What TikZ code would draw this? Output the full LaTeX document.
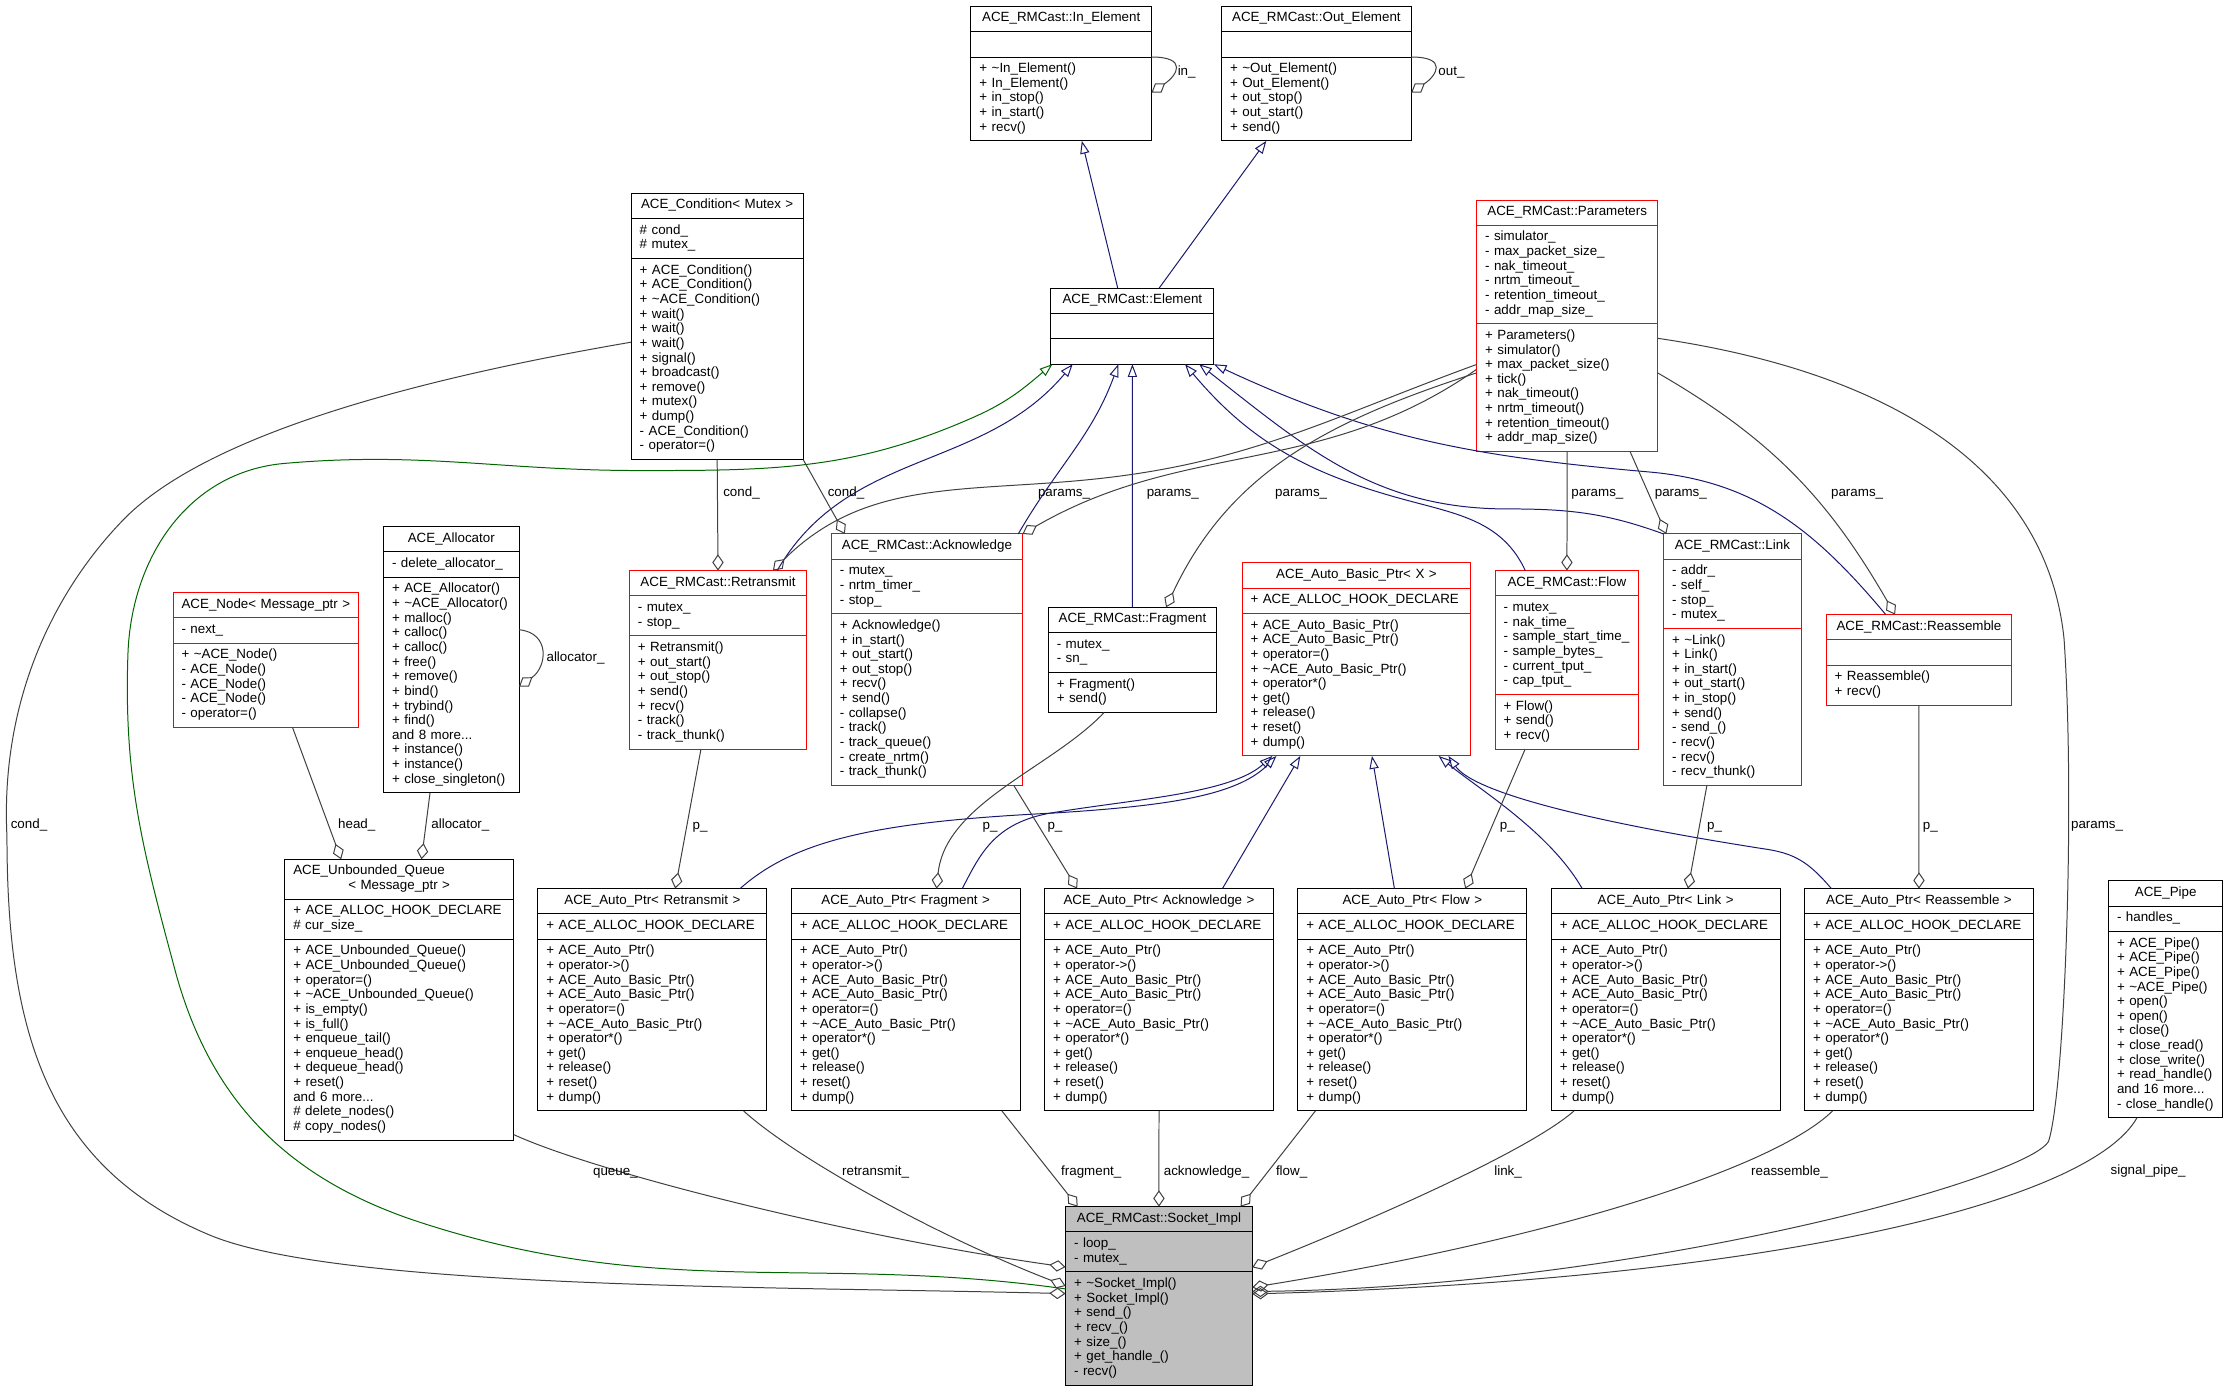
\documentclass[tikz,border=0pt]{standalone}
\usepackage{fontspec}
\setmainfont{Liberation Sans}
\usetikzlibrary{arrows.meta}

\definecolor{inhblue}{RGB}{25,25,112}
\definecolor{protgreen}{RGB}{0,100,0}
\definecolor{aggrgray}{RGB}{64,64,64}

\hyphenpenalty=10000
\exhyphenpenalty=10000

% class box: name, north west corner, width, extra style, title, attributes, methods
\newcommand{\umlclass}[7]{%
  \pgfmathsetmacro{\clstw}{#3-12}%
  \node[cls, cls title, #4, text width=\clstw pt, anchor=north west] (#1) at (#2) {#5};
  \node[cls, #4, text width=\clstw pt, anchor=north] (#1-a) at (#1.south) {#6};
  \node[cls, #4, text width=\clstw pt, anchor=north] (#1-m) at (#1-a.south) {#7};
}

\begin{document}
\begin{tikzpicture}[x=1pt, y=-1pt,
  cls/.style={draw, line width=0.7pt, outer sep=0pt, inner xsep=6pt, inner ysep=3.75pt,
    align=left, font=\fontsize{9.4}{10.3}\selectfont,
    execute at begin node=\strut, execute at end node=\strut},
  cls title/.style={align=center},
  redcls/.style={draw=red},
  lbl/.style={inner sep=0pt, anchor=west, font=\fontsize{9.4}{10.3}\selectfont,
    execute at begin node=\strut},
  inh/.style={draw=inhblue, line width=0.7pt, -{Triangle[open, length=9pt, width=6.5pt]}},
  prot/.style={inh, draw=protgreen},
  aggr/.style={draw=aggrgray, line width=0.7pt, -{Diamond[open, length=11.5pt, width=8pt]}}]
\useasboundingbox[fill=white] (0,0) rectangle (1568,979.2);

% top row
\umlclass{inel}{683,4.5}{127}{}{ACE\_RMCast::In\_Element}{}
  {+~\textasciitilde In\_Element()\\+~In\_Element()\\+~in\_stop()\\+~in\_start()\\+~recv()}
\umlclass{outel}{859.3,4.5}{133.4}{}{ACE\_RMCast::Out\_Element}{}
  {+~\textasciitilde Out\_Element()\\+~Out\_Element()\\+~out\_stop()\\+~out\_start()\\+~send()}
\umlclass{cond}{444,136}{121}{}{ACE\_Condition<~Mutex~>}{\#~cond\_\\\#~mutex\_}
  {+~ACE\_Condition()\\+~ACE\_Condition()\\+~\textasciitilde ACE\_Condition()\\+~wait()\\+~wait()\\+~wait()\\+~signal()\\+~broadcast()\\+~remove()\\+~mutex()\\+~dump()\\-~ACE\_Condition()\\-~operator=()}
\umlclass{elem}{739.3,202.8}{114.5}{}{ACE\_RMCast::Element}{}{}
\umlclass{params}{1038.7,140.7}{127.5}{redcls}{ACE\_RMCast::Parameters}
  {-~simulator\_\\-~max\_packet\_size\_\\-~nak\_timeout\_\\-~nrtm\_timeout\_\\-~retention\_timeout\_\\-~addr\_map\_size\_}
  {+~Parameters()\\+~simulator()\\+~max\_packet\_size()\\+~tick()\\+~nak\_timeout()\\+~nrtm\_timeout()\\+~retention\_timeout()\\+~addr\_map\_size()}

% middle row
\umlclass{msgnode}{121.7,416.9}{130.4}{redcls}{ACE\_Node<~Message\_ptr~>}{-~next\_}
  {+~\textasciitilde ACE\_Node()\\-~ACE\_Node()\\-~ACE\_Node()\\-~ACE\_Node()\\-~operator=()}
\umlclass{alloc}{269.8,370.5}{95.3}{}{ACE\_Allocator}{-~delete\_allocator\_}
  {+~ACE\_Allocator()\\+~\textasciitilde ACE\_Allocator()\\+~malloc()\\+~calloc()\\+~calloc()\\+~free()\\+~remove()\\+~bind()\\+~trybind()\\+~find()\\and~8~more...\\+~instance()\\+~instance()\\+~close\_singleton()}
\umlclass{ret}{442.7,401.4}{124.8}{redcls}{ACE\_RMCast::Retransmit}{-~mutex\_\\-~stop\_}
  {+~Retransmit()\\+~out\_start()\\+~out\_stop()\\+~send()\\+~recv()\\-~track()\\-~track\_thunk()}
\umlclass{ack}{584.8,375.6}{134.5}{redcls}{ACE\_RMCast::Acknowledge}{-~mutex\_\\-~nrtm\_timer\_\\-~stop\_}
  {+~Acknowledge()\\+~in\_start()\\+~out\_start()\\+~out\_stop()\\+~recv()\\+~send()\\-~collapse()\\-~track()\\-~track\_queue()\\-~create\_nrtm()\\-~track\_thunk()}
\umlclass{frag}{737.4,427.2}{118.5}{}{ACE\_RMCast::Fragment}{-~mutex\_\\-~sn\_}{+~Fragment()\\+~send()}
\umlclass{basic}{873.7,396}{161}{redcls}{ACE\_Auto\_Basic\_Ptr<~X~>}{+~ACE\_ALLOC\_HOOK\_DECLARE}
  {+~ACE\_Auto\_Basic\_Ptr()\\+~ACE\_Auto\_Basic\_Ptr()\\+~operator=()\\+~\textasciitilde ACE\_Auto\_Basic\_Ptr()\\+~operator*()\\+~get()\\+~release()\\+~reset()\\+~dump()}
\umlclass{flow}{1051.8,401.4}{100.9}{redcls}{ACE\_RMCast::Flow}
  {-~mutex\_\\-~nak\_time\_\\-~sample\_start\_time\_\\-~sample\_bytes\_\\-~current\_tput\_\\-~cap\_tput\_}
  {+~Flow()\\+~send()\\+~recv()}
\umlclass{link}{1170.2,375.6}{96.9}{redcls}{ACE\_RMCast::Link}{-~addr\_\\-~self\_\\-~stop\_\\-~mutex\_}
  {+~\textasciitilde Link()\\+~Link()\\+~in\_start()\\+~out\_start()\\+~in\_stop()\\+~send()\\-~send\_()\\-~recv()\\-~recv()\\-~recv\_thunk()}
\umlclass{reas}{1284.6,432.4}{130.6}{redcls}{ACE\_RMCast::Reassemble}{}{+~Reassemble()\\+~recv()}

% bottom row
\umlclass{queue}{200.3,604.5}{161}{}{\makebox[\linewidth][l]{ACE\_Unbounded\_Queue}\\<~Message\_ptr~>}
  {+~ACE\_ALLOC\_HOOK\_DECLARE\\\#~cur\_size\_}
  {+~ACE\_Unbounded\_Queue()\\+~ACE\_Unbounded\_Queue()\\+~operator=()\\+~\textasciitilde ACE\_Unbounded\_Queue()\\+~is\_empty()\\+~is\_full()\\+~enqueue\_tail()\\+~enqueue\_head()\\+~dequeue\_head()\\+~reset()\\and~6~more...\\\#~delete\_nodes()\\\#~copy\_nodes()}
\foreach \apid/\apname [count=\i from 0] in {apret/Retransmit, apfrag/Fragment, apack/Acknowledge, apflow/Flow, aplink/Link, apreas/Reassemble}
  {\umlclass{\apid}{378.4+\i*178.2,625.1}{161}{}{ACE\_Auto\_Ptr<~\apname~>}{+~ACE\_ALLOC\_HOOK\_DECLARE}
    {+~ACE\_Auto\_Ptr()\\+~operator->()\\+~ACE\_Auto\_Basic\_Ptr()\\+~ACE\_Auto\_Basic\_Ptr()\\+~operator=()\\+~\textasciitilde ACE\_Auto\_Basic\_Ptr()\\+~operator*()\\+~get()\\+~release()\\+~reset()\\+~dump()}}
\umlclass{pipe}{1483.2,619.7}{80.5}{}{ACE\_Pipe}{-~handles\_}
  {+~ACE\_Pipe()\\+~ACE\_Pipe()\\+~ACE\_Pipe()\\+~\textasciitilde ACE\_Pipe()\\+~open()\\+~open()\\+~close()\\+~close\_read()\\+~close\_write()\\+~read\_handle()\\and~16~more...\\-~close\_handle()}
\umlclass{sock}{749.6,848.8}{131.3}{fill=black!25}{ACE\_RMCast::Socket\_Impl}{-~loop\_\\-~mutex\_}
  {+~\textasciitilde Socket\_Impl()\\+~Socket\_Impl()\\+~send\_()\\+~recv\_()\\+~size\_()\\+~get\_handle\_()\\-~recv()}

% inheritance
\draw[inh] ([xshift=47pt]elem.north west) -- ([xshift=78pt]inel-m.south west);
\draw[inh] ([xshift=76pt]elem.north west) -- ([xshift=31.5pt]outel-m.south west);
\draw[prot] ([yshift=-57.9pt]sock.north west) to[out=172,in=-18] (296,860) to[out=162,in=-75] (123,682)
  to[out=105,in=-92] (90,460) to[out=88,in=185] (200,326) to[out=5,in=180] (450,331)
  to[out=0,in=204] (686,293) to[out=24,in=220] ([xshift=1pt]elem-m.south west);
\draw[inh] ([xshift=104pt]ret.north west) to[out=60,in=-130] ([xshift=15.3pt]elem-m.south west);
\draw[inh] ([xshift=-3pt]ack.north east) to[out=60,in=-110] ([xshift=47.4pt]elem-m.south west);
\draw[inh] ([xshift=59.2pt]frag.north west) -- ([xshift=57.3pt]elem-m.south west);
\draw[inh] ([xshift=21.2pt]flow.north west) to[out=115,in=-15] (990,352) to[out=165,in=-50] ([xshift=94.3pt]elem-m.south west);
\draw[inh] (link.north west) to[out=160,in=0] (1060,358) to[out=180,in=-38] ([xshift=104.2pt]elem-m.south west);
\draw[inh] ([xshift=42pt]reas.north west) to[out=130,in=-5] (1160,332) to[out=175,in=-25] (elem-m.south east);
\draw[inh] ([xshift=142.2pt]apret.north west) .. controls (560,590) and (620,578) .. (740,572)
  .. controls (820,567) and (870,560) .. ([xshift=24.2pt]basic-m.south west);
\draw[inh] ([xshift=120.3pt]apfrag.north west) .. controls (690,600) and (700,577) .. (745,571)
  .. controls (800,562) and (866,558) .. ([xshift=21.3pt]basic-m.south west);
\draw[inh] ([xshift=125.1pt]apack.north west) -- ([xshift=41pt]basic-m.south west);
\draw[inh] ([xshift=67.9pt]apflow.north west) -- ([xshift=91.4pt]basic-m.south west);
\draw[inh] ([xshift=21.8pt]aplink.north west) .. controls (1090,585) and (1040,555) .. ([xshift=138.3pt]basic-m.south west);
\draw[inh] ([xshift=18.9pt]apreas.north west) .. controls (1272,606) and (1262,600) .. (1240,597)
  .. controls (1100,575) and (1035,555) .. ([xshift=145.2pt]basic-m.south west);

% members
\draw[aggr] (inel-m.north east) .. controls +(26,0) and +(18,-12) .. ([yshift=-25pt]inel-m.north east);
\draw[aggr] (outel-m.north east) .. controls +(26,0) and +(18,-12) .. ([yshift=-25pt]outel-m.north east);
\draw[aggr] ([yshift=-36.9pt]alloc-m.north east) .. controls +(22,2) and +(20,-14) .. ([yshift=-76.9pt]alloc-m.north east);
\draw[aggr] (cond-m.south) -- (ret.north);
\draw[aggr] (cond-m.south east) -- ([xshift=9.5pt]ack.north west);
\draw[aggr] ([yshift=-28.6pt]params-m.north west) to[out=200,in=6] (770,337) to[out=186,in=45] ([xshift=101pt]ret.north west);
\draw[aggr] ([yshift=-32pt]params-m.north west) to[out=215,in=30] (ack.north east);
\draw[aggr] ([yshift=-34.5pt]params-m.north west) to[out=198,in=65] ([xshift=82.9pt]frag.north west);
\draw[aggr] (params-m.south) -- (flow.north);
\draw[aggr] ([xshift=108pt]params-m.south west) -- ([xshift=2pt]link.north west);
\draw[aggr] ([yshift=-34.6pt]params-m.north east) to[out=-30,in=120] ([xshift=48.5pt]reas.north west);
\draw[aggr] ([xshift=84pt]msgnode-m.south west) -- ([xshift=39.7pt]queue.north west);
\draw[aggr] ([xshift=32.7pt]alloc-m.south west) -- ([xshift=96.2pt]queue.north west);
\draw[aggr] ([xshift=50.4pt]ret-m.south west) -- ([xshift=96.6pt]apret.north west);
\draw[aggr] ([xshift=39.3pt]frag-m.south west) .. controls (740,540) and (665,565) .. ([xshift=102.2pt]apfrag.north west);
\draw[aggr] ([xshift=128.4pt]ack-m.south west) -- ([xshift=22.9pt]apack.north west);
\draw[aggr] ([xshift=21.1pt]flow-m.south west) -- ([xshift=117.7pt]apflow.north west);
\draw[aggr] ([xshift=30.5pt]link-m.south west) -- ([xshift=96.2pt]aplink.north west);
\draw[aggr] (reas-m.south) -- (apreas.north);

% into the socket
\draw[aggr] ([yshift=-104.7pt]cond.north west) .. controls (320,262) and (150,300) .. (86.4,366)
  .. controls (40,414) and (0,490) .. (4.9,588.5) .. controls (5,720) and (30,820) .. (148,869)
  .. controls (240,907) and (550,905) .. ([yshift=-61.2pt]sock.north west);
\draw[aggr] ([yshift=4pt]queue-m.south east) .. controls (420,825) and (600,870) .. ([yshift=-42.5pt]sock.north west);
\draw[aggr] ([xshift=144.7pt]apret-m.south west) .. controls (560,815) and (660,870) .. ([yshift=-55.8pt]sock.north west);
\draw[aggr] ([xshift=148.2pt]apfrag-m.south west) -- ([xshift=8.5pt]sock.north west);
\draw[aggr] (apack-m.south) -- (sock.north);
\draw[aggr] ([xshift=12.3pt]apflow-m.south west) -- ([xshift=-8.2pt]sock.north east);
\draw[aggr] ([xshift=16pt]aplink-m.south west) .. controls (1075,810) and (960,860) .. ([yshift=-42.7pt]sock.north east);
\draw[aggr] ([xshift=19.7pt]apreas-m.south west) .. controls (1250,820) and (1100,870) .. ([yshift=-56.8pt]sock.north east);
\draw[aggr] ([yshift=-10.2pt]params-m.north east) .. controls (1330,262) and (1440,330) .. (1452,450)
  .. controls (1460,570) and (1452,770) .. (1441,803) .. controls (1425,830) and (1150,905) .. ([yshift=-59.7pt]sock.north east);
\draw[aggr] ([xshift=20pt]pipe-m.south west) .. controls (1470,845) and (1250,900) .. ([yshift=-61.4pt]sock.north east);

% labels
\node[lbl] (l-in) at (828.3,51) {in\_};
\node[lbl] (l-out) at (1011.7,51) {out\_};
\node[lbl] (l-cond1) at (508.6,347) {cond\_};
\node[lbl] (l-cond2) at (582.1,347) {cond\_};
\node[lbl] (l-cond3) at (7.4,581) {cond\_};
\foreach \lx/\ly [count=\i] in {730/347, 806.5/347, 896.8/347, 1105.2/347, 1163.9/347, 1287.9/347, 1456.7/581}
  {\node[lbl] (l-par\i) at (\lx,\ly) {params\_};}
\foreach \lx [count=\i] in {487.1, 691, 736.7, 1054.9, 1200.7, 1352.4}
  {\node[lbl] (l-p\i) at (\lx,581.5) {p\_};}
\node[lbl] (l-head) at (237.7,581) {head\_};
\node[lbl] (l-alloc1) at (303.3,581) {allocator\_};
\node[lbl] (l-alloc2) at (384.3,463.3) {allocator\_};
\node[lbl] (l-queue) at (417,824.6) {queue\_};
\node[lbl] (l-retr) at (592.2,824.6) {retransmit\_};
\node[lbl] (l-frag) at (746.3,825) {fragment\_};
\node[lbl] (l-ack) at (818.5,825) {acknowledge\_};
\node[lbl] (l-flow) at (897.4,825) {flow\_};
\node[lbl] (l-link) at (1051,824.5) {link\_};
\node[lbl] (l-reas) at (1231.7,824.5) {reassemble\_};
\node[lbl] (l-pipe) at (1484.5,824.4) {signal\_pipe\_};
\end{tikzpicture}
\end{document}
